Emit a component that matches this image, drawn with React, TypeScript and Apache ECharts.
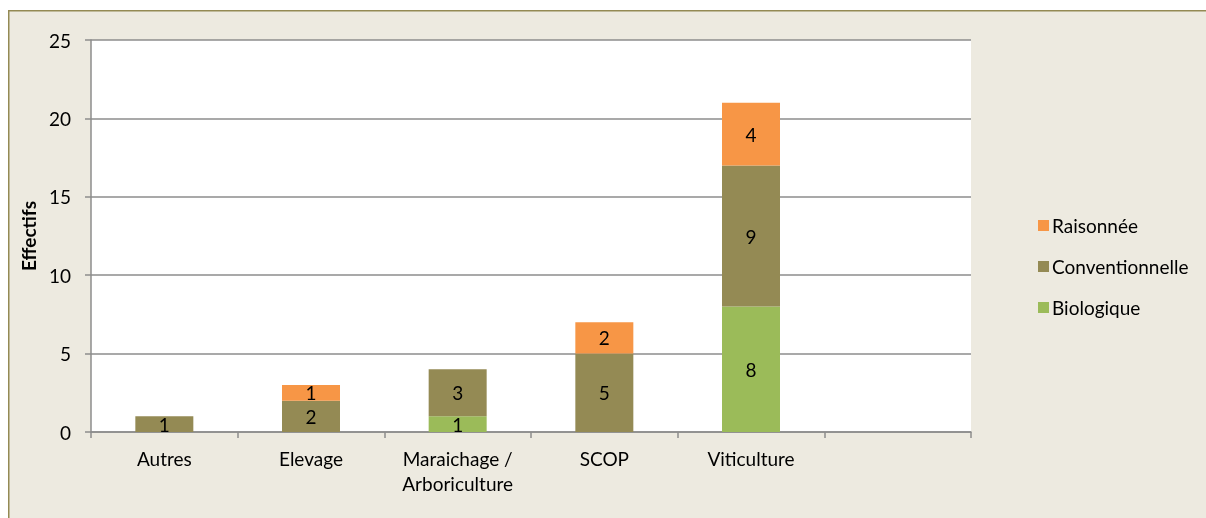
import React, { useEffect, useRef } from "react";
import * as echarts from "echarts";

const categories = ["Autres", "Elevage", "Maraichage /\nArboriculture", "SCOP", "Viticulture", ""];
const biologique = [0, 0, 1, 0, 8, 0];
const conventionnelle = [1, 2, 3, 5, 9, 0];
const raisonnee = [0, 1, 0, 2, 4, 0];
const yTicks = { min: 0, max: 25, interval: 5 };

const FONT = "Lato";

export default function App() {
  const ref = useRef<HTMLDivElement>(null);
  useEffect(() => {
    const chart = echarts.init(ref.current!, null, { renderer: "svg" });
    const label = {
      show: true,
      position: "inside",
      color: "#000",
      fontFamily: FONT,
      fontSize: 19,
      formatter: (p: any) => (p.value ? String(p.value) : ""),
    };
    const mk = (name: string, data: number[], color: string) => ({
      name,
      type: "bar",
      stack: "total",
      data,
      barWidth: 58,
      itemStyle: { color },
      label,
    });
    chart.setOption({
      animation: false,
      textStyle: { fontFamily: FONT },
      graphic: [
        {
          type: "rect",
          z: -10,
          shape: { x: 0, y: 2, width: 1400, height: 700 },
          style: { fill: "#EDEAE0" },
        },
        {
          type: "line",
          z: -9,
          shape: { x1: 0.75, y1: 2, x2: 0.75, y2: 600 },
          style: { stroke: "#948A54", lineWidth: 1.5 },
        },
        {
          type: "line",
          z: -9,
          shape: { x1: 0, y1: 2.75, x2: 1400, y2: 2.75 },
          style: { stroke: "#948A54", lineWidth: 1.5 },
        },
      ],
      grid: {
        left: 83,
        top: 32,
        width: 880,
        height: 392,
        show: true,
        backgroundColor: "#fff",
        borderWidth: 0,
      },
      legend: {
        orient: "vertical",
        left: 1025,
        top: 203,
        itemWidth: 11,
        itemHeight: 11,
        itemGap: 22,
        icon: "rect",
        data: ["Raisonnée", "Conventionnelle", "Biologique"],
        textStyle: { fontFamily: FONT, fontSize: 19, color: "#000", padding: [0, 0, 0, -2] },
      },
      xAxis: {
        type: "category",
        data: categories,
        axisLine: { lineStyle: { color: "#8C8C8C", width: 1.5 } },
        axisTick: { show: true, length: 6, lineStyle: { color: "#8C8C8C", width: 1.5 } },
        axisLabel: { color: "#000", fontFamily: FONT, fontSize: 19, margin: 14, lineHeight: 25, interval: 0 },
      },
      yAxis: {
        type: "value",
        min: yTicks.min,
        max: yTicks.max,
        interval: yTicks.interval,
        name: "Effectifs",
        nameLocation: "middle",
        nameGap: 53,
        nameRotate: 90,
        nameTextStyle: { fontFamily: FONT, fontSize: 19, fontWeight: "bold", color: "#000" },
        axisLine: { show: true, lineStyle: { color: "#8C8C8C", width: 1.5 } },
        axisTick: { show: true, length: 6, lineStyle: { color: "#8C8C8C", width: 1.5 } },
        axisLabel: { color: "#000", fontFamily: FONT, fontSize: 19, margin: 20 },
        splitLine: { lineStyle: { color: "#8C8C8C", width: 1.5 } },
      },
      series: [
        mk("Biologique", biologique, "#9BBB59"),
        mk("Conventionnelle", conventionnelle, "#948A54"),
        mk("Raisonnée", raisonnee, "#F79646"),
      ],
    });
    return () => chart.dispose();
  }, []);
  return (
    <div
      ref={ref}
      style={{ position: "fixed", left: 8, top: 8, width: 1198, height: 510 }}
    />
  );
}
